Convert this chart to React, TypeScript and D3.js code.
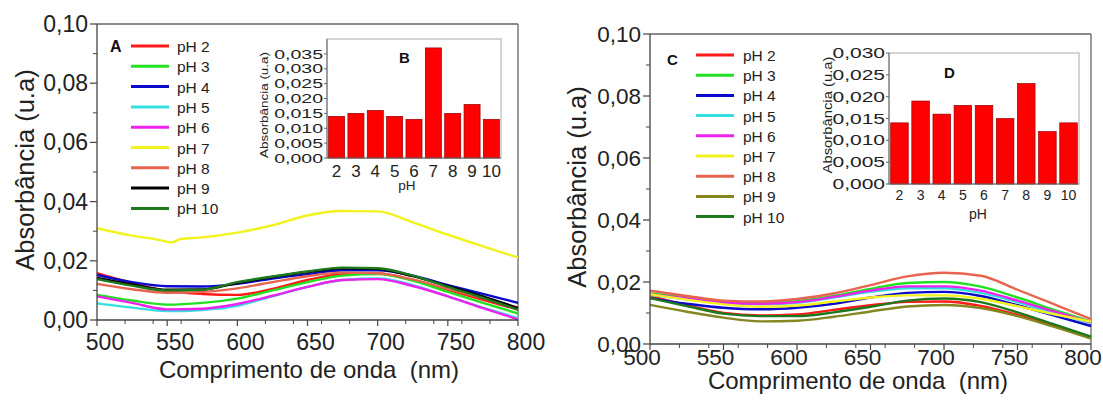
import React from "react";
import * as d3 from "d3";

const FONT = "'Liberation Sans', Arial, Helvetica, sans-serif";

// ---------- DATA ----------
const wavelengths = [500, 525, 550, 575, 600, 625, 650, 675, 700, 725, 750, 775, 800];
const wavelengthsA7 = [500, 525, 545, 553, 560, 575, 600, 625, 650, 675, 700, 725, 750, 775, 800];

const phLabels = ["pH 2", "pH 3", "pH 4", "pH 5", "pH 6", "pH 7", "pH 8", "pH 9", "pH 10"];
const colorsA = ["#ff1a1a", "#22e022", "#0a0acc", "#33e0e0", "#ee22ee", "#f2f21e", "#e8644e", "#000000", "#1c7a1c"];
const colorsC = ["#ff1a1a", "#22e022", "#0a0acc", "#33e0e0", "#ee22ee", "#f2f21e", "#e8644e", "#86861e", "#1c7a1c"];

// Panel A spectra (pH 7 uses wavelengthsA7)
const spectraA: number[][] = [
  [0.0158, 0.0125, 0.0098, 0.0088, 0.0085, 0.0105, 0.0135, 0.0155, 0.0157, 0.0135, 0.0102, 0.0068, 0.0035],
  [0.0085, 0.0066, 0.0052, 0.0058, 0.0072, 0.0100, 0.0128, 0.0150, 0.0155, 0.0133, 0.0095, 0.0058, 0.0022],
  [0.0152, 0.0128, 0.0114, 0.0113, 0.0122, 0.0140, 0.0155, 0.0168, 0.0168, 0.0150, 0.0118, 0.0088, 0.0058],
  [0.0056, 0.0042, 0.0030, 0.0034, 0.0048, 0.0080, 0.0112, 0.0135, 0.0140, 0.0118, 0.0080, 0.0042, 0.0006],
  [0.0080, 0.0058, 0.0036, 0.0038, 0.0054, 0.0082, 0.0112, 0.0135, 0.0138, 0.0115, 0.0080, 0.0040, 0.0002],
  [0.0310, 0.0285, 0.0270, 0.0262, 0.0274, 0.0279, 0.0295, 0.0320, 0.0353, 0.0368, 0.0367, 0.0330, 0.0288, 0.0249, 0.0211],
  [0.0122, 0.0104, 0.0092, 0.0095, 0.0107, 0.0128, 0.0148, 0.0160, 0.0158, 0.0137, 0.0105, 0.0075, 0.0042],
  [0.0142, 0.0120, 0.0102, 0.0103, 0.0125, 0.0145, 0.0162, 0.0175, 0.0172, 0.0148, 0.0115, 0.0080, 0.0040],
  [0.0138, 0.0116, 0.0100, 0.0102, 0.0128, 0.0147, 0.0164, 0.0177, 0.0175, 0.0150, 0.0112, 0.0075, 0.0035],
];

// Panel C spectra
const spectraC: number[][] = [
  [0.0155, 0.0125, 0.0100, 0.0092, 0.0095, 0.0110, 0.0125, 0.0136, 0.0137, 0.0123, 0.0094, 0.0058, 0.0022],
  [0.0163, 0.0150, 0.0137, 0.0133, 0.0138, 0.0155, 0.0178, 0.0197, 0.0200, 0.0185, 0.0150, 0.0110, 0.0072],
  [0.0148, 0.0130, 0.0117, 0.0112, 0.0117, 0.0130, 0.0150, 0.0165, 0.0168, 0.0155, 0.0125, 0.0092, 0.0058],
  [0.0158, 0.0145, 0.0132, 0.0128, 0.0133, 0.0150, 0.0168, 0.0180, 0.0180, 0.0165, 0.0135, 0.0100, 0.0068],
  [0.0160, 0.0147, 0.0134, 0.0130, 0.0135, 0.0152, 0.0172, 0.0186, 0.0186, 0.0172, 0.0140, 0.0105, 0.0070],
  [0.0160, 0.0143, 0.0128, 0.0120, 0.0124, 0.0137, 0.0150, 0.0157, 0.0157, 0.0146, 0.0122, 0.0096, 0.0072],
  [0.0172, 0.0155, 0.0140, 0.0137, 0.0145, 0.0163, 0.0190, 0.0218, 0.0230, 0.0220, 0.0175, 0.0128, 0.0080],
  [0.0126, 0.0104, 0.0085, 0.0073, 0.0075, 0.0088, 0.0105, 0.0121, 0.0126, 0.0116, 0.0090, 0.0055, 0.0017],
  [0.0148, 0.0122, 0.0098, 0.0090, 0.0090, 0.0102, 0.0120, 0.0140, 0.0147, 0.0135, 0.0102, 0.0063, 0.0024],
];

const phCategories = ["2", "3", "4", "5", "6", "7", "8", "9", "10"];
const barsB = [0.014, 0.015, 0.016, 0.014, 0.013, 0.037, 0.015, 0.018, 0.013];
const barsD = [0.014, 0.019, 0.016, 0.018, 0.018, 0.015, 0.023, 0.012, 0.014];

const yTitle = "Absorbância (u.a)";
const xTitle = "Comprimento de onda  (nm)";
const insetYTitle = "Absorbância (u.a)";

const fmt2 = (v: number) => d3.format(".2f")(v).replace(".", ",");
const fmt3 = (v: number) => d3.format(".3f")(v).replace(".", ",");

// ---------- COMPONENTS ----------
type SpectraProps = {
  x0: number; x1: number; yTop: number; yBottom: number;
  data: number[][]; colors: string[]; specialWl?: number[]; specialIndex?: number;
  legendLineX: number; legendTextX: number; legendY0: number; legendStep: number; legendFont: number;
  letter: string; letterX: number; letterY: number; letterSize: number;
  xTitleX: number; xTitleY: number; yTitleX: number; yTitleY: number;
  xLabelY: number; xLabelShift: number; tickFont: number;
};

function Spectra(p: SpectraProps) {
  const xs = d3.scaleLinear().domain([500, 800]).range([p.x0, p.x1]);
  const ys = d3.scaleLinear().domain([0, 0.1]).range([p.yBottom, p.yTop]);
  const line = d3
    .line<[number, number]>()
    .x((d) => xs(d[0]))
    .y((d) => ys(d[1]))
    .curve(d3.curveMonotoneX);
  const yMajor = ys.ticks(5);
  const yMinor = ys.ticks(10).filter((t) => !yMajor.some((m) => Math.abs(m - t) < 1e-9));
  const xMajor = xs.ticks(6);
  const xMinor = xs.ticks(12).filter((t) => !xMajor.includes(t));
  const axisColor = "#444";
  return (
    <g>
      <line x1={p.x0} x2={p.x1} y1={p.yTop} y2={p.yTop} stroke="#666" strokeWidth={1.3} />
      <line x1={p.x1} x2={p.x1} y1={p.yTop} y2={p.yBottom} stroke="#666" strokeWidth={1.3} />
      {p.data.map((vals, i) => {
        const wl = i === p.specialIndex && p.specialWl ? p.specialWl : wavelengths;
        const pts = wl.map((w, j) => [w, vals[j]] as [number, number]);
        return (
          <path key={i} d={line(pts) || ""} fill="none" stroke={p.colors[i]} strokeWidth={2.4} strokeLinejoin="round" />
        );
      })}
      <line x1={p.x0} x2={p.x0} y1={p.yTop} y2={p.yBottom} stroke={axisColor} strokeWidth={1.3} />
      <line x1={p.x0} x2={p.x1} y1={p.yBottom} y2={p.yBottom} stroke={axisColor} strokeWidth={1.3} />
      {yMajor.map((t) => (
        <g key={"ym" + t}>
          <line x1={p.x0 - 7} x2={p.x0} y1={ys(t)} y2={ys(t)} stroke={axisColor} strokeWidth={1.2} />
          <text x={p.x0 - 9} y={ys(t) + 8} textAnchor="end" fontSize={p.tickFont} fill="#222" fontFamily={FONT}>
            {fmt2(t)}
          </text>
        </g>
      ))}
      {yMinor.map((t) => (
        <line key={"yn" + t} x1={p.x0 - 4} x2={p.x0} y1={ys(t)} y2={ys(t)} stroke={axisColor} strokeWidth={1} />
      ))}
      {xMajor.map((t) => (
        <g key={"xm" + t}>
          <line x1={xs(t)} x2={xs(t)} y1={p.yBottom} y2={p.yBottom + 6} stroke={axisColor} strokeWidth={1.2} />
          <text x={xs(t) + p.xLabelShift} y={p.xLabelY} textAnchor="middle" fontSize={p.tickFont} fill="#222" fontFamily={FONT}>
            {t}
          </text>
        </g>
      ))}
      {xMinor.map((t) => (
        <line key={"xn" + t} x1={xs(t)} x2={xs(t)} y1={p.yBottom} y2={p.yBottom + 4} stroke={axisColor} strokeWidth={1} />
      ))}
      <text
        x={p.xTitleX}
        y={p.xTitleY}
        textAnchor="middle"
        fontSize={24}
        fill="#222"
        fontFamily={FONT}
        style={{ whiteSpace: "pre" }}
      >
        {xTitle}
      </text>
      <text
        transform={`translate(${p.yTitleX},${p.yTitleY}) rotate(-90)`}
        textAnchor="middle"
        fontSize={25.5}
        fill="#222"
        fontFamily={FONT}
      >
        {yTitle}
      </text>
      <text x={p.letterX} y={p.letterY} fontSize={p.letterSize} fontWeight="bold" fill="#111" fontFamily={FONT}>
        {p.letter}
      </text>
      {phLabels.map((lab, i) => {
        const y = p.legendY0 + i * p.legendStep;
        return (
          <g key={lab}>
            <line x1={p.legendLineX} x2={p.legendLineX + 38} y1={y} y2={y} stroke={p.colors[i]} strokeWidth={3} />
            <text x={p.legendTextX} y={y + 6} fontSize={p.legendFont} fill="#222" fontFamily={FONT}>
              {lab}
            </text>
          </g>
        );
      })}
    </g>
  );
}

type InsetProps = {
  left: number; right: number; top: number; bottom: number;
  values: number[]; yMax: number; tickCount: number;
  yFont: number; yScaleX: number; xFont: number; xLabelY: number;
  phX: number; phY: number; phFont: number;
  titleX: number; titleY: number; titleLen: number; titleFont: number;
  letter: string; letterX: number; letterY: number;
};

function Inset(p: InsetProps) {
  const xb = d3.scaleBand<string>().domain(phCategories).range([p.left, p.right]).paddingInner(0.17).paddingOuter(0.08);
  const ys = d3.scaleLinear().domain([0, p.yMax]).range([p.bottom, p.top]);
  const ticks = d3.range(p.tickCount).map((i) => i * 0.005);
  return (
    <g>
      <rect x={p.left} y={p.top} width={p.right - p.left} height={p.bottom - p.top} fill="none" stroke="#aaa" strokeWidth={1} />
      {p.values.map((v, i) => (
        <rect
          key={i}
          x={xb(phCategories[i])}
          y={ys(v)}
          width={xb.bandwidth()}
          height={ys(0) - ys(v)}
          fill="#ff0000"
          stroke="#900"
          strokeWidth={0.7}
        />
      ))}
      <line x1={p.left} x2={p.left} y1={p.top} y2={p.bottom} stroke="#666" strokeWidth={1} />
      <line x1={p.left} x2={p.right} y1={p.bottom} y2={p.bottom} stroke="#666" strokeWidth={1} />
      {ticks.map((t) => (
        <g key={t}>
          <line x1={p.left - 3} x2={p.left} y1={ys(t)} y2={ys(t)} stroke="#666" strokeWidth={1} />
          <text
            transform={`translate(${p.left - 4},${ys(t) + p.yFont * 0.36}) scale(${p.yScaleX},1)`}
            textAnchor="end"
            fontSize={p.yFont}
            fill="#222"
            fontFamily={FONT}
          >
            {fmt3(t)}
          </text>
        </g>
      ))}
      {phCategories.map((c) => (
        <text
          key={c}
          x={(xb(c) || 0) + xb.bandwidth() / 2}
          y={p.xLabelY}
          textAnchor="middle"
          fontSize={p.xFont}
          fill="#222"
          fontFamily={FONT}
        >
          {c}
        </text>
      ))}
      <text x={p.phX} y={p.phY} textAnchor="middle" fontSize={p.phFont} fill="#222" fontFamily={FONT}>
        pH
      </text>
      <text
        transform={`translate(${p.titleX},${p.titleY}) rotate(-90)`}
        textAnchor="middle"
        fontSize={p.titleFont}
        textLength={p.titleLen}
        lengthAdjust="spacingAndGlyphs"
        fill="#222"
        fontFamily={FONT}
      >
        {insetYTitle}
      </text>
      <text x={p.letterX} y={p.letterY} fontSize={15} fontWeight="bold" fill="#111" fontFamily={FONT}>
        {p.letter}
      </text>
    </g>
  );
}

export default function App() {
  return (
    <svg
      width={1103}
      height={401}
      viewBox="0 0 1103 401"
      style={{ position: "absolute", left: 0, top: 0, background: "#fff" }}
    >
      <rect x={0} y={0} width={1103} height={401} fill="#fff" />
      <Spectra
        x0={97} x1={518} yTop={24} yBottom={320}
        data={spectraA} colors={colorsA} specialWl={wavelengthsA7} specialIndex={5}
        legendLineX={131} legendTextX={177} legendY0={46} legendStep={20.3} legendFont={15.5}
        letter="A" letterX={110} letterY={52} letterSize={16}
        xTitleX={309} xTitleY={378} yTitleX={34} yTitleY={170}
        xLabelY={350} xLabelShift={8} tickFont={23}
      />
      <Spectra
        x0={650} x1={1091} yTop={34} yBottom={344}
        data={spectraC} colors={colorsC}
        legendLineX={696} legendTextX={743} legendY0={55} legendStep={20.2} legendFont={15.5}
        letter="C" letterX={667} letterY={65} letterSize={15}
        xTitleX={858} xTitleY={389} yTitleX={586} yTitleY={187}
        xLabelY={365} xLabelShift={-8} tickFont={22.5}
      />
      <Inset
        left={327} right={501} top={39} bottom={158}
        values={barsB} yMax={0.04} tickCount={8}
        yFont={13} yScaleX={1.5} xFont={17} xLabelY={177}
        phX={407} phY={190} phFont={13.5}
        titleX={268} titleY={105} titleLen={106} titleFont={11}
        letter="B" letterX={399} letterY={63}
      />
      <Inset
        left={889} right={1079} top={53} bottom={184}
        values={barsD} yMax={0.03} tickCount={7}
        yFont={14} yScaleX={1.5} xFont={14} xLabelY={200}
        phX={978} phY={219} phFont={14}
        titleX={832} titleY={115} titleLen={117} titleFont={12}
        letter="D" letterX={944} letterY={78}
      />
    </svg>
  );
}
